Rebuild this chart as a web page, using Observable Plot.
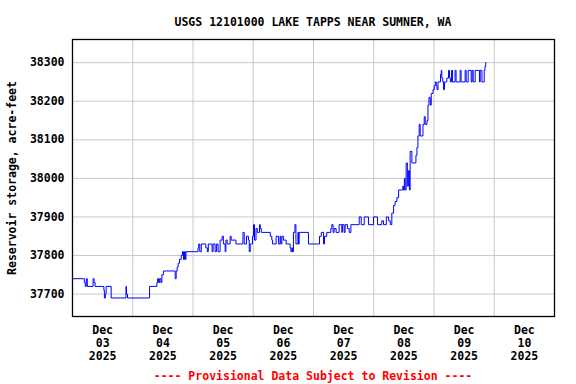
<!DOCTYPE html>
<html>
<head>
<meta charset="utf-8">
<script src="https://cdn.jsdelivr.net/npm/d3@7"></script>
<script src="https://cdn.jsdelivr.net/npm/@observablehq/plot@0.6"></script>
<style>
  html, body { margin: 0; padding: 0; background: #fff; }
  body { width: 576px; height: 384px; overflow: hidden; font-family: "DejaVu Sans Mono", monospace; font-weight: bold; }
  #title { box-sizing: border-box; height: 30px; padding-top: 16px; line-height: 12px; font-size: 11.5px; margin-left: 72px; width: 482px; text-align: center; color: #000; white-space: pre; }
  #caption { margin-left: 72px; width: 482px; text-align: center; font-size: 11.5px; line-height: 12px; color: #ff0000; white-space: pre; }
</style>
</head>
<body>
<div id="title"></div>
<div id="chart"></div>
<div id="caption"></div>
<script>
const titleText = "USGS 12101000 LAKE TAPPS NEAR SUMNER, WA";
const captionText = "---- Provisional Data Subject to Revision ----";
const yLabel = "Reservoir storage, acre-feet";

// hours after 2025-12-03 00:00 at which the reading changes
const hours = [
  0, 4.7, 5.1, 5.5, 5.9, 8.2, 8.6, 9.0, 12.5, 12.7,
  13.1, 13.4, 15.4, 21.3, 21.5, 21.9, 30.7, 33.6, 33.9, 34.3,
  34.7, 35.2, 35.6, 36.2, 40.9, 41.3, 41.7, 42.1, 42.6, 43.3,
  43.8, 44.2, 44.6, 44.9, 45.2, 50.0, 50.3, 50.7, 51.3, 53.1,
  53.7, 54.1, 55.6, 56.0, 56.8, 57.4, 58.0, 58.8, 59.6, 60.1,
  60.8, 61.1, 61.6, 62.8, 63.2, 65.1, 67.9, 68.4, 69.3, 70.1,
  70.4, 70.8, 71.7, 72.1, 72.5, 73.1, 73.6, 74.5, 74.8, 75.2,
  78.8, 79.4, 79.7, 81.1, 82.1, 82.7, 83.0, 83.4, 84.0, 85.1,
  86.7, 87.0, 87.4, 87.6, 88.0, 88.6, 89.0, 89.8, 90.0, 90.3,
  94.0, 98.4, 99.1, 100.0, 100.4, 101.3, 102.9, 103.3, 103.8, 104.2,
  105.0, 106.2, 107.3, 107.5, 108.2, 108.6, 109.5, 110.2, 110.9, 114.2,
  115.0, 116.2, 117.9, 119.9, 121.5, 123.2, 123.9, 125.0, 125.9, 126.6,
  127.2, 127.9, 128.5, 129.2, 129.9, 131.6, 131.8, 132.2, 132.5, 132.9,
  133.4, 133.8, 134.2, 134.5, 135.2, 136.8, 137.2, 137.6, 138.1, 138.5,
  139.6, 140.1, 140.5, 141.2, 141.6, 142.0, 142.5, 142.9, 143.6, 144.1,
  144.5, 144.9, 145.2, 145.6, 146.6, 146.9, 147.1, 147.5, 147.8, 148.2,
  149.1, 149.8, 150.2, 150.5, 151.0, 151.4, 152.4, 152.8, 154.4, 154.8,
  156.4, 156.8, 157.6, 158.8, 159.2, 159.6, 160.4, 162.1, 162.4, 163.1,
  164.0, 164.3, 164.6, 164.8
];
// reservoir storage, acre-feet, from each of those times
const storage = [
  37740, 37730, 37720, 37740, 37720, 37740, 37730, 37720, 37710, 37690,
  37700, 37720, 37690, 37720, 37700, 37690, 37720, 37730, 37740, 37730,
  37740, 37730, 37750, 37760, 37740, 37760, 37770, 37780, 37790, 37800,
  37810, 37790, 37810, 37790, 37810, 37820, 37830, 37810, 37830, 37820,
  37810, 37830, 37810, 37830, 37810, 37830, 37810, 37840, 37850, 37830,
  37810, 37840, 37830, 37850, 37840, 37830, 37860, 37830, 37850, 37840,
  37810, 37830, 37850, 37880, 37840, 37870, 37860, 37880, 37870, 37860,
  37850, 37840, 37830, 37850, 37830, 37850, 37830, 37850, 37840, 37830,
  37820, 37810, 37820, 37810, 37860, 37880, 37830, 37860, 37830, 37860,
  37830, 37850, 37860, 37830, 37850, 37860, 37870, 37880, 37860, 37870,
  37860, 37880, 37860, 37880, 37860, 37880, 37870, 37860, 37880, 37900,
  37880, 37900, 37880, 37900, 37880, 37890, 37880, 37900, 37890, 37880,
  37910, 37930, 37940, 37950, 37970, 37980, 37970, 38000, 37970, 38040,
  37980, 38020, 37970, 38070, 38040, 38060, 38080, 38110, 38140, 38110,
  38140, 38160, 38140, 38150, 38190, 38210, 38190, 38220, 38230, 38240,
  38250, 38240, 38230, 38250, 38270, 38280, 38260, 38250, 38230, 38250,
  38260, 38280, 38260, 38250, 38280, 38250, 38280, 38250, 38280, 38250,
  38280, 38250, 38280, 38250, 38280, 38250, 38280, 38250, 38280, 38250,
  38280, 38290, 38300, 38300
];

const yTicks = [37700, 37800, 37900, 38000, 38100, 38200, 38300];
const xDays = ["2025-12-03", "2025-12-04", "2025-12-05", "2025-12-06", "2025-12-07", "2025-12-08", "2025-12-09", "2025-12-10"];
const xLabels = ["Dec\n03\n2025", "Dec\n04\n2025", "Dec\n05\n2025", "Dec\n06\n2025", "Dec\n07\n2025", "Dec\n08\n2025", "Dec\n09\n2025", "Dec\n10\n2025"];

const start = Date.UTC(2025, 11, 3);
const data = hours.map((h, i) => ({date: new Date(start + h * 3600e3), value: storage[i]}));
const dayStarts = xDays.map(d => new Date(d + "T00:00:00Z"));
const noons = dayStarts.map(d => new Date(+d + 12 * 3600e3));
const labelData = noons.map((d, i) => ({date: d, label: xLabels[i]}));

document.getElementById("title").textContent = titleText;
document.getElementById("caption").textContent = captionText;

const chart = Plot.plot({
  width: 576,
  height: 340,
  marginTop: 9,
  marginBottom: 54,
  marginLeft: 72,
  marginRight: 22,
  style: {fontFamily: "'DejaVu Sans Mono', monospace", fontWeight: "bold", fontSize: "11.5px", color: "#000", background: "#fff"},
  x: {type: "utc", domain: [new Date(start), new Date(Date.UTC(2025, 11, 11))], axis: null},
  y: {domain: [37642, 38360], axis: null},
  marks: [
    Plot.ruleX(dayStarts.slice(1), {stroke: "#c8c8c8", strokeWidth: 1, strokeOpacity: 1}),
    Plot.ruleY(yTicks, {stroke: "#c8c8c8", strokeWidth: 1, strokeOpacity: 1}),
    Plot.line(data, {x: "date", y: "value", curve: "step-after", stroke: "#0000ff", strokeWidth: 1}),
    Plot.frame({stroke: "#000", strokeWidth: 1.3}),
    Plot.text(yTicks, {y: d => d, frameAnchor: "left", dx: -8, textAnchor: "end", text: d => String(d), fill: "#000"}),
    Plot.text(labelData, {x: "date", frameAnchor: "bottom", dy: 8, lineAnchor: "top", text: "label", lineHeight: 1.13, fill: "#000"}),
    Plot.text([yLabel], {frameAnchor: "left", dx: -60, rotate: -90, textAnchor: "middle", text: d => d, fill: "#000"})
  ]
});
document.getElementById("chart").appendChild(chart);
</script>
</body>
</html>
